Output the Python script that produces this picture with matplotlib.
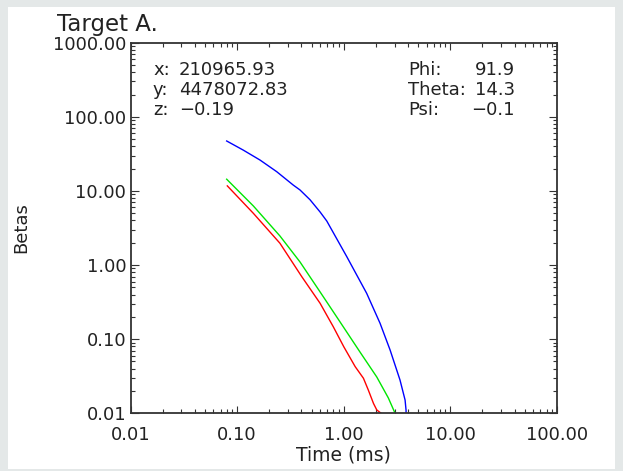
import matplotlib
matplotlib.use("Agg")
import matplotlib.pyplot as plt
from matplotlib.patches import Rectangle
from matplotlib.ticker import LogLocator, FuncFormatter, NullFormatter

# ---- data ----
t_blue = [0.0798, 0.114, 0.164, 0.235, 0.336, 0.389, 0.483, 0.60, 0.693, 1.067,
          1.64, 2.19, 2.72, 3.37, 3.76, 3.84, 3.85]
b_blue = [47.2, 35.6, 26.1, 18.2, 12.0, 10.3, 7.6, 5.2, 3.93, 1.30,
          0.416, 0.164, 0.0715, 0.0281, 0.0151, 0.011, 0.001]

t_green = [0.0798, 0.142, 0.252, 0.389, 0.60, 0.923, 1.42, 2.04, 2.62, 3.03]
b_green = [14.4, 6.27, 2.47, 1.10, 0.434, 0.171, 0.0671, 0.0309, 0.0161, 0.0100]

t_red = [0.0809, 0.142, 0.252, 0.404, 0.60, 0.798, 1.0, 1.28, 1.53, 1.70, 1.90, 2.04, 2.35]
b_red = [11.7, 4.99, 1.97, 0.697, 0.305, 0.147, 0.0792, 0.0426, 0.0297, 0.0206, 0.0136, 0.0111, 0.0095]

title = "Target A."
xlabel = "Time (ms)"
ylabel = "Betas"
left_keys = ["x:", "y:", "z:"]
left_vals = ["210965.93", "4478072.83", "\u22120.19"]
right_keys = ["Phi:", "Theta:", "Psi:"]
right_vals = ["91.9", "14.3", "\u22120.1"]

W, H = 623, 471
TXT = "#222222"
plt.rcParams['font.family'] = ['DejaVu Sans']

fig = plt.figure(figsize=(W / 100, H / 100), dpi=100, facecolor="#e4e8e8")
fig.patches.append(Rectangle((8 / W, 1 - 469 / H), 607 / W, 462 / H,
                             transform=fig.transFigure, facecolor="white",
                             edgecolor="none", zorder=-5))

x0, x1, y0, y1 = 130.5, 557.0, 42.7, 413.3
ax = fig.add_axes([x0 / W, 1 - y1 / H, (x1 - x0) / W, (y1 - y0) / H])
ax.set_facecolor("white")

ax.plot(t_blue, b_blue, color="#0000ff", lw=1.0)
ax.plot(t_green, b_green, color="#00e600", lw=1.0)
ax.plot(t_red, b_red, color="#ff0000", lw=1.0)

ax.set_xscale("log")
ax.set_yscale("log")
ax.set_xlim(0.01, 100)
ax.set_ylim(0.01, 1000)

fmt = FuncFormatter(lambda v, p: "%.2f" % v)
for axis in (ax.xaxis, ax.yaxis):
    axis.set_major_locator(LogLocator(base=10, numticks=20))
    axis.set_minor_locator(LogLocator(base=10, subs=range(2, 10), numticks=20))
    axis.set_major_formatter(fmt)
    axis.set_minor_formatter(NullFormatter())

ax.tick_params(axis="both", which="both", direction="in", top=True, right=True,
               colors="#333333", labelcolor=TXT, labelsize=13, width=0.8)
ax.tick_params(axis="x", which="major", length=5.3, pad=9)
ax.tick_params(axis="x", which="minor", length=2.7)
ax.tick_params(axis="y", which="major", length=6.1, pad=3)
ax.tick_params(axis="y", which="minor", length=3.0)
for s in ax.spines.values():
    s.set_linewidth(1.3)
    s.set_color("#333333")

def fx(px):
    return px / W

def fy(py):
    return 1 - py / H

fig.text(fx(57), fy(25), title, fontsize=16.5, color=TXT, ha="left", va="center")
fig.text(fx((x0 + x1) / 2), fy(455), xlabel, fontsize=13.5, color=TXT,
         ha="center", va="center")
fig.text(fx(21), fy((y0 + y1) / 2), ylabel, fontsize=13, color=TXT,
         rotation=90, ha="center", va="center")

rows = [70, 90, 110]
for k, v, r in zip(left_keys, left_vals, rows):
    fig.text(fx(153), fy(r), k, fontsize=13, color=TXT, ha="left", va="center")
    fig.text(fx(179), fy(r), v, fontsize=13, color=TXT, ha="left", va="center")
for k, v, r in zip(right_keys, right_vals, rows):
    fig.text(fx(408), fy(r), k, fontsize=13, color=TXT, ha="left", va="center")
    fig.text(fx(515), fy(r), v, fontsize=13, color=TXT, ha="right", va="center")

fig.savefig("out.png", dpi=100, facecolor=fig.get_facecolor())
